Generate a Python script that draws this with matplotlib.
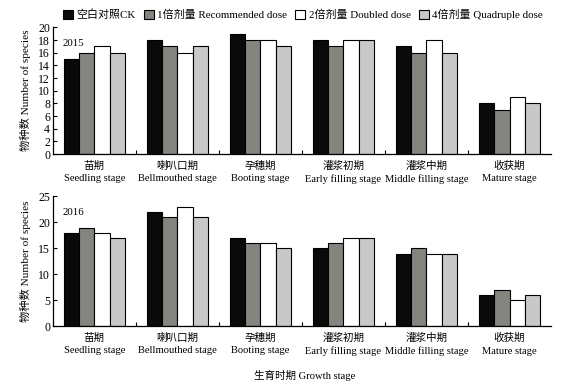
import matplotlib
matplotlib.use('Agg')
import matplotlib.pyplot as plt
import numpy as np

plt.rcParams['font.family'] = ['Liberation Serif', 'Noto Sans CJK SC']
plt.rcParams['axes.unicode_minus'] = False

# ===== 数据 =====
stages_cn = ['苗期', '喇叭口期', '孕穗期', '灌浆初期', '灌浆中期', '收获期']
stages_en = ['Seedling stage', 'Bellmouthed stage', 'Booting stage',
             'Early filling stage', 'Middle filling stage', 'Mature stage']
treatments = ['空白对照CK', '1倍剂量 Recommended dose', '2倍剂量 Doubled dose', '4倍剂量 Quadruple dose']

ck_2015 = [15, 18, 19, 18, 17, 8]
rec_2015 = [16, 17, 18, 17, 16, 7]
dbl_2015 = [17, 16, 18, 18, 18, 9]
quad_2015 = [16, 17, 17, 18, 16, 8]

ck_2016 = [18, 22, 17, 15, 14, 6]
rec_2016 = [19, 21, 16, 16, 15, 7]
dbl_2016 = [18, 23, 16, 17, 14, 5]
quad_2016 = [17, 21, 15, 17, 14, 6]

colors = ['#0a0a0a', '#85857f', '#ffffff', '#c8c8c6']
FS = 7.6

fig = plt.figure(figsize=(5.74, 3.86), dpi=100)
ax1 = fig.add_axes([0.092, 0.601, 0.868, 0.328])
ax2 = fig.add_axes([0.092, 0.155, 0.868, 0.336])

x = np.arange(len(stages_cn))
w = 0.185
labels = [f'{c}\n{e}' for c, e in zip(stages_cn, stages_en)]


def draw(ax, series, ymax, step, year):
    handles = []
    for i, (vals, col) in enumerate(zip(series, colors)):
        b = ax.bar(x + (i - 1.5) * w, vals, width=w, color=col,
                   edgecolor='black', linewidth=0.8)
        handles.append(b)
    ax.set_xlim(-0.5, len(x) - 0.5)
    ax.set_ylim(0, ymax)
    ax.set_yticks(np.arange(0, ymax + 1, step))
    ax.set_xticks(x)
    ax.set_xticklabels(labels, fontsize=FS, linespacing=1.45)
    ax.set_xticks(np.arange(0.5, len(x) - 0.5, 1), minor=True)
    ax.tick_params(axis='x', which='major', length=0, pad=5)
    ax.tick_params(axis='x', which='minor', direction='in', length=3, width=0.8)
    ax.tick_params(axis='y', direction='in', length=3, width=0.8, labelsize=FS + 0.9, pad=2)
    for s in ['top', 'right']:
        ax.spines[s].set_visible(False)
    for s in ['left', 'bottom']:
        ax.spines[s].set_linewidth(0.9)
    ax.set_ylabel('物种数 Number of species', fontsize=FS + 0.5, labelpad=5)
    ax.text(0.02, 0.91, year, transform=ax.transAxes, fontsize=FS + 0.2, va='top')
    return handles


h = draw(ax1, [ck_2015, rec_2015, dbl_2015, quad_2015], 20, 2, '2015')
draw(ax2, [ck_2016, rec_2016, dbl_2016, quad_2016], 25, 5, '2016')

fig.legend(h, treatments, loc='upper left', bbox_to_anchor=(0.097, 0.997),
           ncol=4, frameon=False, fontsize=FS + 0.3, handlelength=0.9,
           handleheight=0.9, handletextpad=0.3, columnspacing=0.75, borderpad=0.2)

fig.text(0.53, 0.018, '生育时期 Growth stage', ha='center', fontsize=FS)

fig.savefig('out.png', dpi=100)
plt.close()
